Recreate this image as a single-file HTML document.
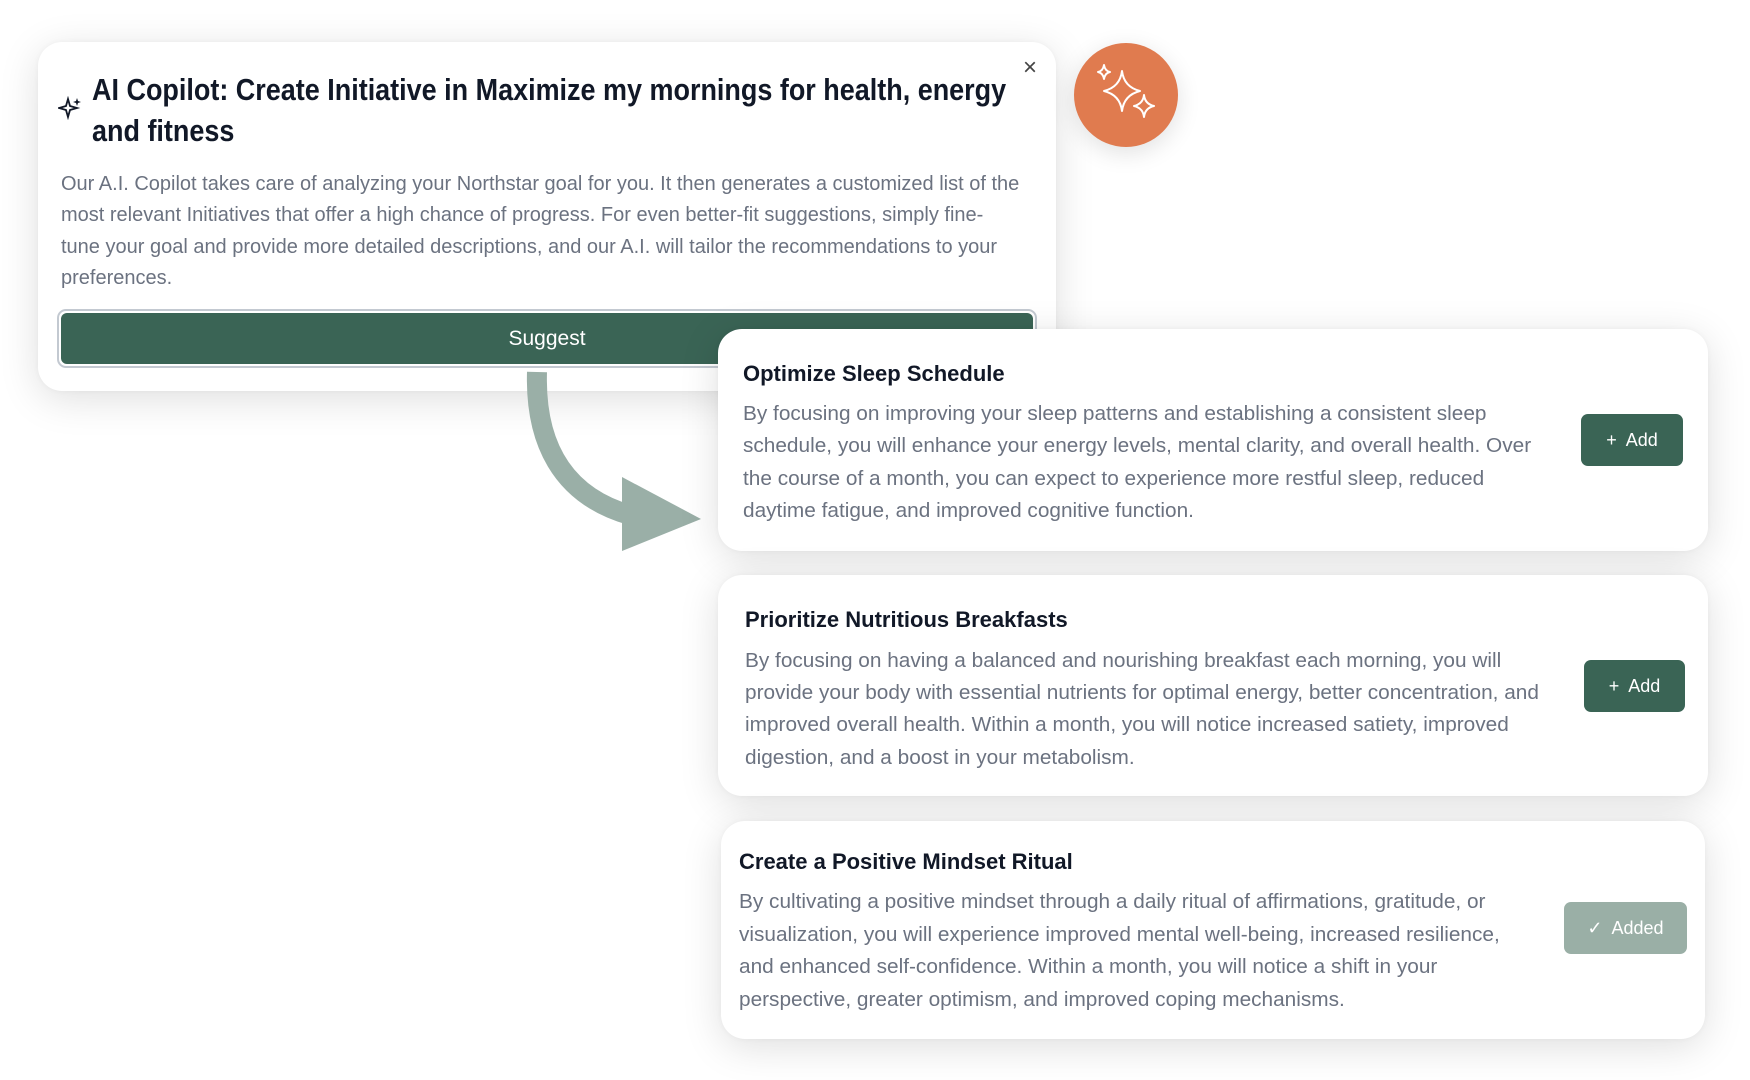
<!DOCTYPE html>
<html><head><meta charset="utf-8"><style>
*{margin:0;padding:0;box-sizing:border-box}
body{width:1750px;height:1080px;background:#fff;position:relative;overflow:hidden;font-family:"Liberation Sans",sans-serif}
.card{position:absolute;background:#fff;border-radius:24px;box-shadow:0 8px 40px rgba(0,0,0,0.13),0 0 6px rgba(0,0,0,0.04)}
.ln{position:absolute;white-space:nowrap;transform-origin:0 50%}
.title{font-weight:bold;color:#111827}
.body{color:#6b7280}
.cb{transform:scaleX(1.04)}
.btn{position:absolute;border-radius:7px;color:#fff;font-size:18px;display:flex;align-items:center;justify-content:center}
</style></head><body>

<div class="card" style="left:38px;top:42px;width:1018px;height:349px"></div>
<svg style="position:absolute;left:58px;top:96px" width="24" height="24" viewBox="0 0 24 24"><path d="M10 3 L12 10 L19 12 L12 14 L10 21 L8 14 L1 12 L8 10 Z" fill="none" stroke="#111827" stroke-width="1.8"/><path d="M19 2 L20 5 L23 6 L20 7 L19 10 L18 7 L15 6 L18 5Z" fill="#111827"/></svg>
<div class="ln title" style="left:92px;top:70px;font-size:31px;line-height:40px;transform:scaleX(0.87)">AI Copilot: Create Initiative in Maximize my mornings for health, energy</div>
<div class="ln title" style="left:92px;top:111px;font-size:31px;line-height:40px;transform:scaleX(0.87)">and fitness</div>
<div style="position:absolute;left:1023px;top:54px;font-size:24px;color:#444">×</div>
<div class="ln body" style="left:61px;top:172px;font-size:20px;line-height:24px">Our A.I. Copilot takes care of analyzing your Northstar goal for you. It then generates a customized list of the</div>
<div class="ln body" style="left:61px;top:203px;font-size:20px;line-height:24px">most relevant Initiatives that offer a high chance of progress. For even better-fit suggestions, simply fine-</div>
<div class="ln body" style="left:61px;top:235px;font-size:20px;line-height:24px">tune your goal and provide more detailed descriptions, and our A.I. will tailor the recommendations to your</div>
<div class="ln body" style="left:61px;top:266px;font-size:20px;line-height:24px">preferences.</div>
<div style="position:absolute;left:57px;top:309px;width:980px;height:59px;border:2px solid #c3c9d1;border-radius:9px;padding:2px"><div style="width:100%;height:100%;background:#3a6455;border-radius:6px;color:#fff;font-size:21px;display:flex;align-items:center;justify-content:center">Suggest</div></div>

<div style="position:absolute;left:1074px;top:43px;width:104px;height:104px;border-radius:50%;background:#e07b4f;box-shadow:0 6px 24px rgba(0,0,0,0.12)"></div>
<svg style="position:absolute;left:1074px;top:43px" width="104" height="104" viewBox="0 0 104 104"><g fill="none" stroke="#fff" stroke-width="2" stroke-linejoin="round"><path d="M48 28 Q50 44 66 48 Q50 52 48 68 Q46 52 30 48 Q46 44 48 28Z"/><path d="M70 52 Q71 61 80 63 Q71 65 70 74 Q69 65 60 63 Q69 61 70 52Z"/><path d="M30 22 Q31 28 36 29 Q31 30 30 36 Q29 30 24 29 Q29 28 30 22Z"/></g></svg>

<svg style="position:absolute;left:0;top:0" width="1750" height="1080"><path d="M537 372 C535 440 560 495 630 515" fill="none" stroke="#9aafa7" stroke-width="20"/><polygon points="622,477 701,519 622,551" fill="#9aafa7"/></svg>

<div class="card" style="left:718px;top:329px;width:990px;height:222px"></div>
<div class="ln title" style="left:743px;top:361px;font-size:22px;line-height:26px">Optimize Sleep Schedule</div>
<div class="ln body cb" style="left:743px;top:402px;font-size:20px;line-height:24px">By focusing on improving your sleep patterns and establishing a consistent sleep</div>
<div class="ln body cb" style="left:743px;top:434px;font-size:20px;line-height:24px">schedule, you will enhance your energy levels, mental clarity, and overall health. Over</div>
<div class="ln body cb" style="left:743px;top:467px;font-size:20px;line-height:24px">the course of a month, you can expect to experience more restful sleep, reduced</div>
<div class="ln body cb" style="left:743px;top:499px;font-size:20px;line-height:24px">daytime fatigue, and improved cognitive function.</div>
<div class="btn" style="left:1581px;top:414px;width:102px;height:52px;background:#3a6455">+&nbsp; Add</div>

<div class="card" style="left:718px;top:575px;width:990px;height:221px"></div>
<div class="ln title" style="left:745px;top:607px;font-size:22px;line-height:26px">Prioritize Nutritious Breakfasts</div>
<div class="ln body cb" style="left:745px;top:649px;font-size:20px;line-height:24px">By focusing on having a balanced and nourishing breakfast each morning, you will</div>
<div class="ln body cb" style="left:745px;top:681px;font-size:20px;line-height:24px">provide your body with essential nutrients for optimal energy, better concentration, and</div>
<div class="ln body cb" style="left:745px;top:713px;font-size:20px;line-height:24px">improved overall health. Within a month, you will notice increased satiety, improved</div>
<div class="ln body cb" style="left:745px;top:746px;font-size:20px;line-height:24px">digestion, and a boost in your metabolism.</div>
<div class="btn" style="left:1584px;top:660px;width:101px;height:52px;background:#3a6455">+&nbsp; Add</div>

<div class="card" style="left:721px;top:821px;width:984px;height:218px"></div>
<div class="ln title" style="left:739px;top:849px;font-size:22px;line-height:26px">Create a Positive Mindset Ritual</div>
<div class="ln body cb" style="left:739px;top:890px;font-size:20px;line-height:24px">By cultivating a positive mindset through a daily ritual of affirmations, gratitude, or</div>
<div class="ln body cb" style="left:739px;top:923px;font-size:20px;line-height:24px">visualization, you will experience improved mental well-being, increased resilience,</div>
<div class="ln body cb" style="left:739px;top:955px;font-size:20px;line-height:24px">and enhanced self-confidence. Within a month, you will notice a shift in your</div>
<div class="ln body cb" style="left:739px;top:988px;font-size:20px;line-height:24px">perspective, greater optimism, and improved coping mechanisms.</div>
<div class="btn" style="left:1564px;top:902px;width:123px;height:52px;background:#9aafa6">✓&nbsp; Added</div>

</body></html>
